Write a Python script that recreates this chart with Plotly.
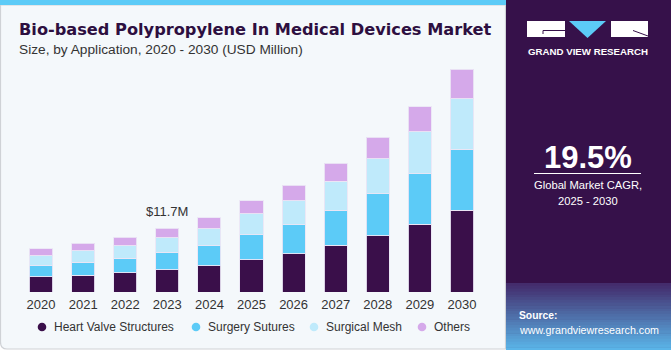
import plotly.graph_objects as go
import numpy as np

years = ["2020", "2021", "2022", "2023", "2024", "2025", "2026", "2027", "2028", "2029", "2030"]
series_names = ["Heart Valve Structures", "Surgery Sutures", "Surgical Mesh", "Others"]
heart_valve = [2.76, 3.07, 3.55, 4.10, 4.83, 5.94, 7.04, 8.58, 10.35, 12.50, 15.07]
surgery_sutures = [2.08, 2.39, 2.70, 3.20, 3.68, 4.60, 5.33, 6.43, 7.67, 9.25, 11.16]
surgical_mesh = [1.78, 2.08, 2.26, 2.68, 3.13, 3.81, 4.41, 5.39, 6.43, 7.72, 9.25]
others = [1.34, 1.42, 1.60, 1.73, 2.02, 2.44, 2.89, 3.31, 4.04, 4.60, 5.46]
annot_year = "2023"
annot_label = "$11.7M"
cagr = "19.5%"

colors = ["#3a0f4a", "#5ccbf7", "#bfeafb", "#d5a9ea"]
values = [heart_valve, surgery_sutures, surgical_mesh, others]

WIDTH, HEIGHT = 671, 350
L, R, T, Bm = 20, 188, 60, 58
W = WIDTH - L - R
H = HEIGHT - T - Bm
BASE = HEIGHT - Bm


def X(px):
    return (px - L) / W


def Y(py):
    return (BASE - py) / H


fig = go.Figure()
for name, vals, col in zip(series_names, values, colors):
    fig.add_trace(go.Bar(
        x=years, y=vals, name=name,
        marker=dict(color=col, line=dict(color="rgba(235,230,245,0.9)", width=1)),
        showlegend=False, hoverinfo="x+y+name"))

idx = years.index(annot_year)
total = sum(v[idx] for v in values)

FONT = "Liberation Sans, Arial, sans-serif"

shapes = []
# left panel
shapes.append(dict(type="path", xref="paper", yref="paper",
                   path=f"M {X(0.5)},{Y(5)} L {X(505.5)},{Y(5)} L {X(505.5)},{Y(349)} L {X(7)},{Y(349)} "
                        f"Q {X(0.5)},{Y(349)} {X(0.5)},{Y(342)} Z",
                   fillcolor="#f4f8fb", line=dict(color="#cfd2d6", width=1.2), layer="below"))
# top stripe
shapes.append(dict(type="rect", xref="paper", yref="paper", x0=X(0), x1=X(506), y0=Y(0), y1=Y(5),
                   fillcolor="#5ccbf7", line=dict(width=0), layer="below"))
# right panel
shapes.append(dict(type="rect", xref="paper", yref="paper", x0=X(506), x1=X(671), y0=Y(0), y1=Y(350),
                   fillcolor="#36114a", line=dict(width=0), layer="below"))
# gradient bottom of right panel
c0 = np.array([0x44, 0x2c, 0x6c])
c1 = np.array([0x5a, 0xb4, 0xe8])
n = 24
y_start, y_end = 283, 350
for i in range(n):
    t = i / (n - 1)
    c = (c0 * (1 - t) + c1 * t).astype(int)
    ya = y_start + (y_end - y_start) * i / n
    yb = y_start + (y_end - y_start) * (i + 1) / n
    shapes.append(dict(type="rect", xref="paper", yref="paper", x0=X(506), x1=X(671), y0=Y(ya), y1=Y(yb + 0.5),
                       fillcolor=f"rgb({c[0]},{c[1]},{c[2]})", line=dict(width=0), layer="below"))
# logo
shapes.append(dict(type="rect", xref="paper", yref="paper", x0=X(527), x1=X(565), y0=Y(21), y1=Y(37),
                   fillcolor="white", line=dict(width=0)))
shapes.append(dict(type="path", xref="paper", yref="paper",
                   path=f"M {X(543)},{Y(34)} L {X(543)},{Y(30.5)} L {X(565)},{Y(30.5)}",
                   line=dict(color="#36114a", width=1)))
shapes.append(dict(type="path", xref="paper", yref="paper",
                   path=f"M {X(569)},{Y(21)} L {X(606)},{Y(21)} L {X(587.5)},{Y(38)} Z",
                   fillcolor="#5ccbf7", line=dict(width=0)))
shapes.append(dict(type="rect", xref="paper", yref="paper", x0=X(611), x1=X(648), y0=Y(21), y1=Y(37),
                   fillcolor="white", line=dict(width=0)))
shapes.append(dict(type="path", xref="paper", yref="paper",
                   path=f"M {X(633)},{Y(30.5)} L {X(648)},{Y(36)}",
                   line=dict(color="#36114a", width=1)))
# CAGR underline
shapes.append(dict(type="line", xref="paper", yref="paper", x0=X(534), x1=X(641), y0=Y(173.5), y1=Y(173.5),
                   line=dict(color="white", width=1)))

annotations = [
    dict(text="<b>Bio-based Polypropylene In Medical Devices Market</b>", xref="paper", yref="paper",
         x=X(17), y=Y(30), xanchor="left", yanchor="middle", showarrow=False,
         font=dict(family="DejaVu Sans", size=16.2, color="#2d0f40")),
    dict(text="Size, by Application, 2020 - 2030 (USD Million)", xref="paper", yref="paper",
         x=X(17), y=Y(49), xanchor="left", yanchor="middle", showarrow=False,
         font=dict(family=FONT, size=13.7, color="#333333")),
    dict(text=annot_label, xref="x", yref="y", x=idx, y=total, xanchor="center", yanchor="bottom",
         yshift=7, showarrow=False, font=dict(family=FONT, size=13, color="#333333")),
    dict(text="<b>GRAND VIEW RESEARCH</b>", xref="paper", yref="paper", x=X(587.5), y=Y(51),
         xanchor="center", yanchor="middle", showarrow=False, font=dict(family=FONT, size=9.7, color="white")),
    dict(text=f"<b>{cagr}</b>", xref="paper", yref="paper", x=X(588), y=Y(157),
         xanchor="center", yanchor="middle", showarrow=False, font=dict(family=FONT, size=31, color="white")),
    dict(text="Global Market CAGR,", xref="paper", yref="paper", x=X(588), y=Y(185),
         xanchor="center", yanchor="middle", showarrow=False, font=dict(family=FONT, size=11.2, color="white")),
    dict(text="2025 - 2030", xref="paper", yref="paper", x=X(588), y=Y(201),
         xanchor="center", yanchor="middle", showarrow=False, font=dict(family=FONT, size=11.2, color="white")),
    dict(text="<b>Source:</b>", xref="paper", yref="paper", x=X(517), y=Y(315),
         xanchor="left", yanchor="middle", showarrow=False, font=dict(family=FONT, size=10.3, color="white")),
    dict(text="www.grandviewresearch.com", xref="paper", yref="paper", x=X(517), y=Y(330),
         xanchor="left", yanchor="middle", showarrow=False, font=dict(family=FONT, size=10.7, color="white")),
]

# legend (markers + labels) built from the series names and colours
legend_marker_x = [42, 196, 314, 422]
for name, col, mx in zip(series_names, colors, legend_marker_x):
    r = 4.3
    shapes.append(dict(type="circle", xref="paper", yref="paper", x0=X(mx - r), x1=X(mx + r),
                       y0=Y(327 - r), y1=Y(327 + r), fillcolor=col, line=dict(width=0)))
    annotations.append(dict(text=name, xref="paper", yref="paper", x=X(mx + 10), y=Y(327),
                            xanchor="left", yanchor="middle", showarrow=False,
                            font=dict(family=FONT, size=12, color="#333333")))

fig.update_layout(
    width=WIDTH, height=HEIGHT, margin=dict(l=L, r=R, t=T, b=Bm, pad=0, autoexpand=False),
    barmode="stack", bargap=0.45,
    paper_bgcolor="white", plot_bgcolor="rgba(0,0,0,0)",
    font=dict(family=FONT, color="#333333"),
    showlegend=False,
    xaxis=dict(type="category", categoryorder="array", categoryarray=years, range=[-0.5, len(years) - 0.5],
               showgrid=False, zeroline=False, showline=False, ticks="", ticklabelstandoff=3,
               tickfont=dict(family=FONT, size=13, color="#333333"), fixedrange=True),
    yaxis=dict(range=[0, H / 5.44], visible=False, fixedrange=True),
    shapes=shapes, annotations=annotations,
)

fig.write_html("out.html")
